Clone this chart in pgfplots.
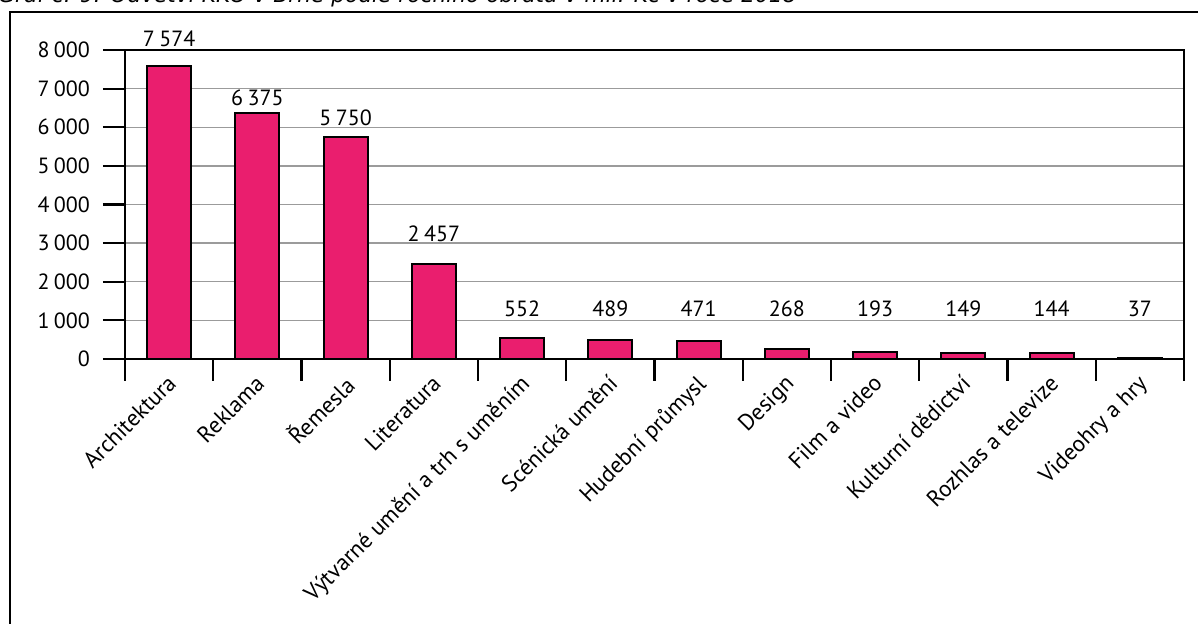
\documentclass[border=0pt]{standalone}
\usepackage{fontspec}
\setmainfont{PT Sans}
\newfontfamily\titlefont{DejaVu Sans}
\usepackage{pgfplots}
\pgfplotsset{compat=1.18}

\definecolor{barpink}{RGB}{234,30,110}
\definecolor{gridgray}{RGB}{155,155,155}

\begin{document}
\begin{tikzpicture}[x=0.5pt,y=0.5pt]
  % picture measured in pixels of the reference (1198 x 624)
  \useasboundingbox (0,0) rectangle (1198,624);
  % caption, cut at the top as in the source
  \node[anchor=base west, inner sep=0pt] at (-2,621)
    {\resizebox{399pt}{!}{\titlefont\itshape Graf č. 9: Odvětví KKO v Brně podle ročního obratu v mil. Kč v roce 2018}};
  % outer frame
  \draw[line width=1pt] (10,-20) -- (10,612) -- (1220,612);

  \begin{axis}[
      at={(62.5pt,132.5pt)}, anchor=south west,
      scale only axis,
      width=529.5pt, height=154.5pt,
      xmin=-0.5, xmax=11.5,
      ymin=0, ymax=8000,
      axis line style={line width=1.1pt},
      tick style={line width=1.1pt, black},
      tick align=outside,
      tick pos=left,
      major tick length=11pt,
      xtick={-0.5,0.5,...,11.5},
      x tick label as interval=true,
      xticklabels={Architektura, Reklama, Řemesla, Literatura,
        Výtvarné umění a trh s uměním, Scénická umění, Hudební průmysl,
        Design, Film a video, Kulturní dědictví, Rozhlas a televize,
        Videohry a hry},
      % shifts act in the rotated frame
      xticklabel style={rotate=45, anchor=north east, inner sep=0pt,
        xshift=1.7pt, yshift=4pt, font=\fontsize{11.5}{13}\selectfont},
      ytick={0,1000,...,8000},
      yticklabel style={font=\fontsize{11}{13}\selectfont, xshift=-3pt,
        /pgf/number format/1000 sep={\hspace{0.2em}},
        /pgf/number format/assume math mode=true},
      ymajorgrids,
      grid style={gridgray, line width=0.75pt},
      clip=false,
    ]

    % bars
    \addplot[ybar, bar width=22pt, fill=barpink, draw=black, line width=1pt]
      coordinates {(0,7574) (1,6375) (2,5750) (3,2457) (4,552) (5,489)
                   (6,471) (7,268) (8,193) (9,149) (10,144) (11,37)};

    % value labels, placed where the source shows them
    \addplot[only marks, mark=*, mark size=0pt,
             mark options={draw=none, fill=none},
             nodes near coords, point meta=explicit symbolic,
             every node near coord/.style={anchor=base, inner sep=0pt,
               font=\fontsize{11}{13}\selectfont}]
      coordinates {(0,8078)[7\hspace{0.2em}574] (1,6576)[6\hspace{0.2em}375]
                   (2,6058)[5\hspace{0.2em}750] (3,3037)[2\hspace{0.2em}457]
                   (4,1095)[552] (5,1095)[489] (6,1095)[471] (7,1095)[268]
                   (8,1095)[193] (9,1095)[149] (10,1095)[144] (11,1095)[37]};
  \end{axis}
\end{tikzpicture}
\end{document}
